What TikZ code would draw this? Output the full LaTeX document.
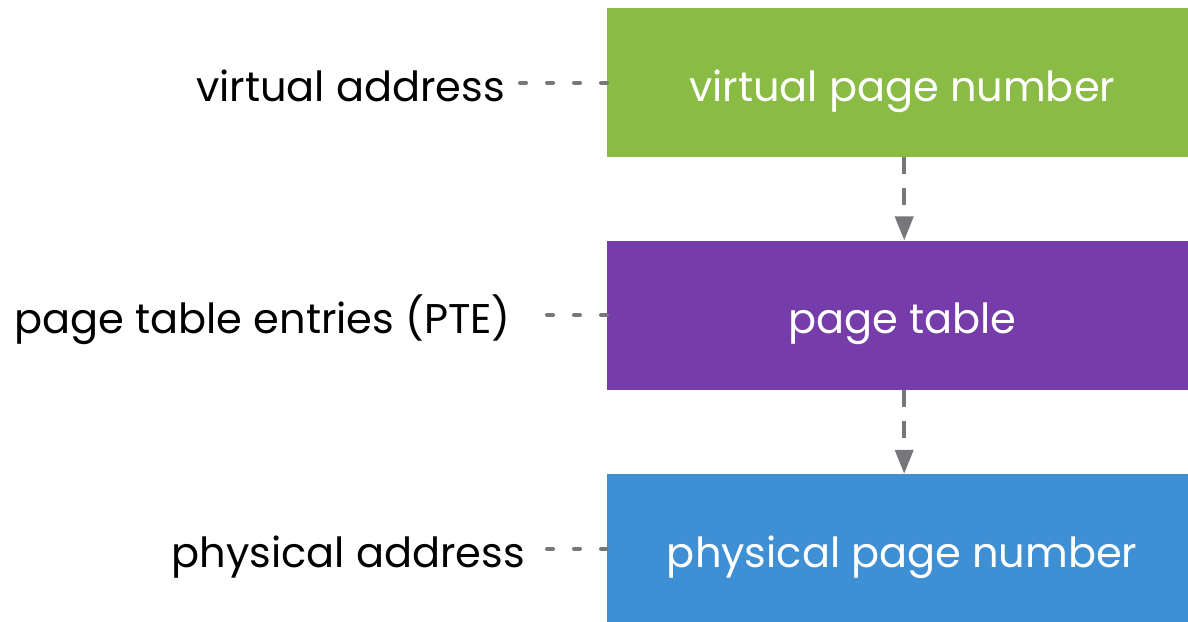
\documentclass[tikz,border=0pt]{standalone}
\usepackage{fontspec}
\setmainfont{Poppins}
\usetikzlibrary{arrows.meta, positioning}

\definecolor{vpngreen}{HTML}{8ABB44}
\definecolor{ptpurple}{HTML}{763CA9}
\definecolor{ppnblue}{HTML}{3E8FD3}
\definecolor{guidegray}{HTML}{77777B}

\begin{document}
\begin{tikzpicture}[
    x=1pt, y=1pt,
    box/.style={rectangle, minimum width=590pt, minimum height=149pt, inner sep=0pt, text height=37pt, text depth=0pt, text=white, font=\fontsize{41.5}{48}\selectfont},
    lbl/.style={inner sep=0pt, text height=37pt, text depth=0pt, font=\fontsize{41.5}{48}\selectfont},
    guide/.style={line width=4pt, guidegray, line cap=round, dash pattern=on 6pt off 21pt},
    arrow/.style={-{Triangle[width=18pt, length=24pt]}, line width=4pt, guidegray, dash pattern=on 17pt off 14pt}
]
    \useasboundingbox (0,0) rectangle (1188,-621);

    \node[box, fill=vpngreen, anchor=north west] (vpn) at (607,-8) {virtual page number};
    \node[box, fill=ptpurple, below=83pt of vpn] (pt) {page table};
    \node[box, fill=ppnblue, below=84pt of pt] (ppn) {physical page number};

    \node[lbl, left=102pt of vpn] (va) {virtual address};
    \node[lbl, left=96pt of pt] (pte) {page table entries (PTE)};
    \node[lbl, left=82pt of ppn] (pa) {physical address};

    \draw[guide, shorten >=10pt] (vpn) -- (va);
    \draw[guide, shorten >=20pt] (pt) -- (pte);
    \draw[guide, shorten >=10pt] (ppn) -- (pa);

    \draw[arrow] ([xshift=2pt]vpn.south) -- ([xshift=2pt]pt.north);
    \draw[arrow] ([xshift=2pt]pt.south) -- ([xshift=2pt]ppn.north);
\end{tikzpicture}
\end{document}
